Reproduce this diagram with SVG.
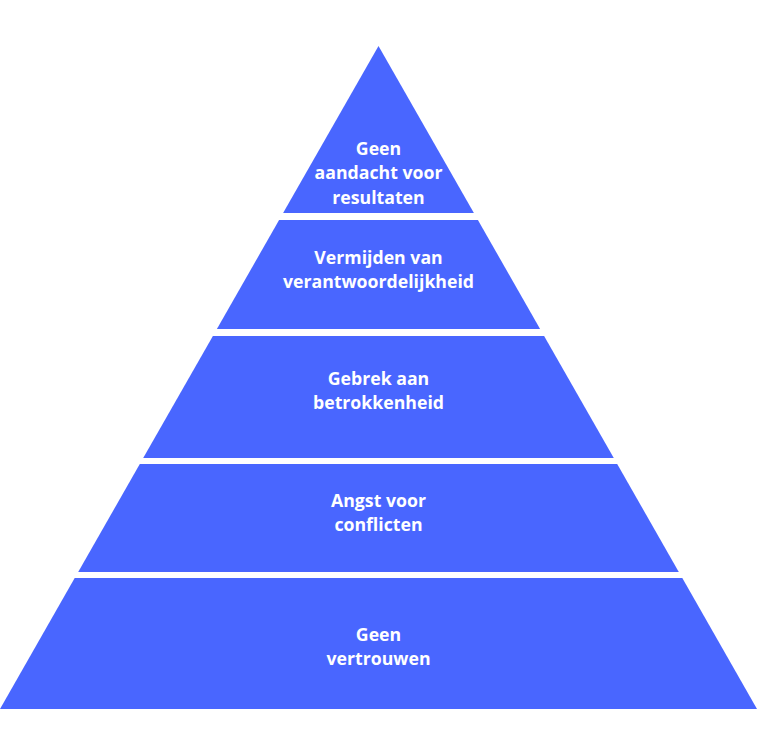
<svg xmlns="http://www.w3.org/2000/svg" width="757" height="731" viewBox="0 0 757 731">
<style>
.band{fill:#4966FF}
.t{font-family:"Open Sans","Liberation Sans",sans-serif;font-weight:700;font-size:17.7px;fill:#ffffff;text-anchor:middle}
</style>
<rect width="757" height="731" fill="#ffffff"/>
<g id="level5">
<polygon class="band" points="378.5,46 473.9,213 283.1,213"/>
<text class="t" x="378.5" y="154.5">Geen</text>
<text class="t" x="378.5" y="179">aandacht voor</text>
<text class="t" x="378.5" y="203.5">resultaten</text>
</g>
<g id="level4">
<polygon class="band" points="279.1,220 477.9,220 540.1,329 216.9,329"/>
<text class="t" x="378.5" y="263.5">Vermijden van</text>
<text class="t" x="378.5" y="288">verantwoordelijkheid</text>
</g>
<g id="level3">
<polygon class="band" points="212.9,336 544.1,336 613.8,458 143.2,458"/>
<text class="t" x="378.5" y="384.5">Gebrek aan</text>
<text class="t" x="378.5" y="409">betrokkenheid</text>
</g>
<g id="level2">
<polygon class="band" points="139.8,464 617.2,464 678.8,572 78.2,572"/>
<text class="t" x="378.5" y="506.5">Angst voor</text>
<text class="t" x="378.5" y="531">conflicten</text>
</g>
<g id="level1">
<polygon class="band" points="74.7,578 682.3,578 757,709 0,709"/>
<text class="t" x="378.5" y="640.5">Geen</text>
<text class="t" x="378.5" y="665">vertrouwen</text>
</g>
<g id="connectors"></g>
</svg>
